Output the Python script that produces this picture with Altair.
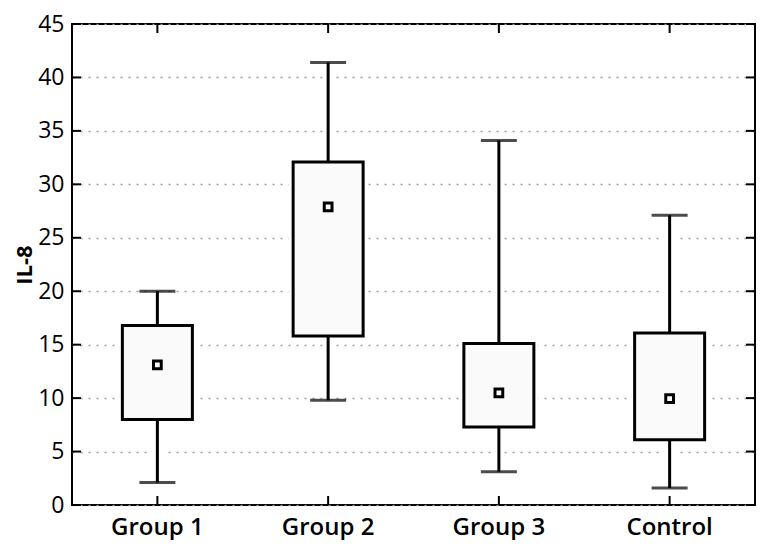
import altair as alt
import pandas as pd

groups = ["Group 1", "Group 2", "Group 3", "Control"]
lower = [2.1, 9.8, 3.1, 1.6]
q1 = [8.0, 15.8, 7.3, 6.1]
q3 = [16.8, 32.1, 15.1, 16.1]
upper = [20.0, 41.4, 34.1, 27.1]
mean = [13.1, 27.9, 10.5, 9.95]
y_ticks = [0, 5, 10, 15, 20, 25, 30, 35, 40, 45]

df = pd.DataFrame(dict(group=groups, lower=lower, q1=q1, q3=q3, upper=upper, mean=mean))
tdf = pd.DataFrame({"v": y_ticks})

W, H = 683, 481
FONT = "Open Sans"

xscale = alt.Scale(paddingInner=0, paddingOuter=0)
xenc = alt.X(
    "group:N", sort=groups, scale=xscale,
    axis=alt.Axis(title=None, labelAngle=0, labelFontSize=24, labelFont=FONT,
                  labelFontWeight=600, labelColor="black", ticks=False,
                  domain=False, labelPadding=10, grid=False),
)
xplain = alt.X("group:N", sort=groups)
yscale = alt.Scale(domain=[0, 45], nice=False, zero=False)

base = alt.Chart(df)

halo_whisk = base.mark_rule(color="white", strokeWidth=11).encode(
    x=xenc,
    y=alt.Y("lower:Q", scale=yscale,
            axis=alt.Axis(title="IL-8", values=y_ticks, grid=True, gridDash=[2, 6],
                          gridColor="#9a9a9a", gridWidth=1.6, ticks=False, tickSize=0,
                          domain=False, labelFontSize=23, labelFont=FONT,
                          labelColor="black", labelPadding=8, titleFont=FONT,
                          titleFontSize=22, titleFontWeight="bold", titleColor="black",
                          titlePadding=1)),
    y2="upper:Q",
)
whisk = base.mark_rule(color="black", strokeWidth=3).encode(
    x=xplain, y="lower:Q", y2="upper:Q")
cap_lo = base.mark_tick(color="black", size=36, thickness=3).encode(
    x=xplain, y="lower:Q")
cap_hi = base.mark_tick(color="black", size=36, thickness=3).encode(
    x=xplain, y="upper:Q")
box_halo = base.mark_bar(size=70, fill="white", stroke="white", strokeWidth=9).encode(
    x=xplain, y="q1:Q", y2="q3:Q")
box = base.mark_bar(size=70, fill="#fafafa", stroke="black", strokeWidth=3).encode(
    x=xplain, y="q1:Q", y2="q3:Q")
mean_pt = base.mark_square(size=60, fill="white", stroke="black", strokeWidth=3,
                           opacity=1).encode(
    x=xplain, y="mean:Q")

tk = alt.Chart(tdf)
left_ticks = tk.mark_rule(color="black", strokeWidth=2).encode(
    y="v:Q", x=alt.value(0), x2=alt.value(9))
right_ticks = tk.mark_rule(color="black", strokeWidth=2).encode(
    y="v:Q", x=alt.value(W - 9), x2=alt.value(W))
top_ticks = base.mark_rule(color="black", strokeWidth=2).encode(
    x=xplain, y=alt.value(0), y2=alt.value(9))
bot_ticks = base.mark_rule(color="black", strokeWidth=2).encode(
    x=xplain, y=alt.value(H - 9), y2=alt.value(H))

chart = alt.layer(
    halo_whisk, box_halo, whisk, cap_lo, cap_hi, box, mean_pt,
    left_ticks, right_ticks, top_ticks, bot_ticks,
).properties(
    width=W, height=H,
    autosize=alt.AutoSizeParams(type="none"),
    padding={"left": 64, "top": 16, "right": 1, "bottom": 35},
).configure_view(stroke="black", strokeWidth=2)

chart.save("out.html", embed_options={"renderer": "svg", "actions": False})
